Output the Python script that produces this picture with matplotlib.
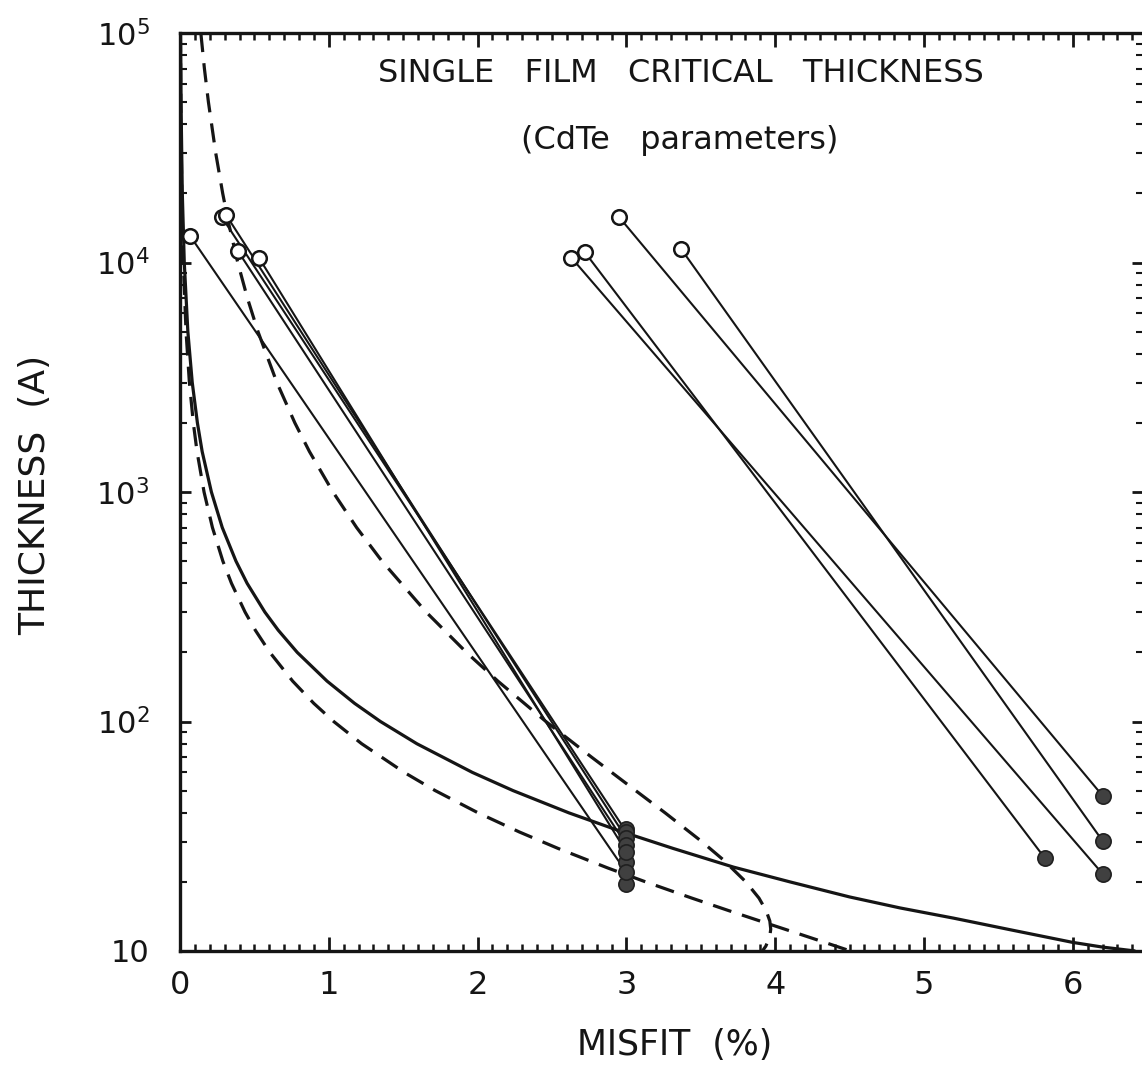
import matplotlib
matplotlib.use("Agg")
import matplotlib.pyplot as plt
from matplotlib import font_manager
from matplotlib.ticker import FixedLocator, MultipleLocator, LogLocator, NullFormatter

plt.rcParams['font.family'] = ['DejaVu Sans']
plt.rcParams['mathtext.default'] = 'regular'

# ---------------- data ----------------
# open circles (start) and filled dots (end) of each measured film
open_x = [0.07, 0.28, 0.31, 0.39, 0.53, 2.63, 2.72, 2.95, 3.37]
open_y = [13000, 15800, 16100, 11200, 10500, 10500, 11100, 15800, 11400]
end_x = [3.0, 3.0, 3.0, 3.0, 3.0, 6.2, 5.81, 6.2, 6.2]
end_y = [22, 33, 31, 29, 27, 21.7, 25.5, 47.5, 30.2]
# extra filled dots in the x = 3 % column
extra_x = [3.0, 3.0, 3.0]
extra_y = [19.5, 24.5, 34]

# solid curve
solid_x = [0.0036, 0.0068, 0.0155, 0.0287, 0.0528, 0.0823, 0.117, 0.149,
           0.211, 0.284, 0.376, 0.451, 0.570, 0.660, 0.788, 0.988, 1.173,
           1.347, 1.592, 1.965, 2.238, 2.613, 2.975, 3.313, 3.72, 4.10,
           4.50, 4.84, 5.20, 5.60, 6.00, 6.20, 6.42]
solid_y = [100000, 50000, 20000, 10000, 5000, 3000, 2000, 1500,
           1000, 700, 500, 400, 300, 250, 200, 150, 120,
           100, 80, 60, 50, 40, 33, 28, 23.2, 20,
           17.2, 15.4, 13.9, 12.3, 10.9, 10.4, 10.0]

# lower dashed curve
ldash_x = [0.0028, 0.0052, 0.0119, 0.022, 0.0405, 0.0631, 0.0895, 0.1145,
           0.1616, 0.218, 0.288, 0.346, 0.437, 0.506, 0.604, 0.757, 0.899,
           1.033, 1.221, 1.507, 1.715, 2.003, 2.281, 2.54, 2.875, 3.13,
           3.44, 3.687, 3.976, 4.139, 4.315, 4.506]
ldash_y = [100000, 50000, 20000, 10000, 5000, 3000, 2000, 1500,
           1000, 700, 500, 400, 300, 250, 200, 150, 120,
           100, 80, 60, 50, 40, 33, 28, 23, 20,
           17, 15, 13, 12, 11, 10]

# upper dashed curve (turns back near 4 %)
udash_x = [0.140, 0.164, 0.191, 0.240, 0.287, 0.325, 0.388, 0.453, 0.524,
           0.651, 0.772, 0.870, 1.028, 1.187, 1.357, 1.654, 1.925, 2.136,
           2.459, 2.765, 3.062, 3.26, 3.506, 3.65, 3.803, 3.891, 3.939,
           3.964, 3.970, 3.963, 3.937, 3.914]
udash_y = [100000, 70000, 50000, 30000, 20000, 15000, 10000, 7000, 5000,
           3000, 2000, 1500, 1000, 700, 500, 300, 200, 150,
           100, 70, 50, 40, 30, 25, 20, 17, 15,
           13.5, 12.45, 11.5, 10.5, 10]

xticks = [0, 1, 2, 3, 4, 5, 6]
yticks = [10, 100, 1000, 10000, 100000]
ytick_labels = ['10', '$10^2$', '$10^3$', '$10^4$', '$10^5$']

# ---------------- figure ----------------
W, H = 1142, 1077
fig = plt.figure(figsize=(W / 100, H / 100), dpi=100)
left_px, right_px, top_px, bot_px = 180, 1143, 33, 951
ax = fig.add_axes([left_px / W, 1 - bot_px / H,
                   (right_px - left_px) / W, (bot_px - top_px) / H])

ax.set_yscale('log')
ax.set_xlim(0, (right_px - left_px) / 148.8)
ax.set_ylim(10, 1e5)

ink = '#151515'
ax.plot(solid_x, solid_y, color=ink, lw=2.3, solid_capstyle='butt')
ax.plot(ldash_x, ldash_y, color=ink, lw=2.3, dashes=(6, 3.5))
ax.plot(udash_x, udash_y, color=ink, lw=2.3, dashes=(6, 3.5))

for x0, y0, x1, y1 in zip(open_x, open_y, end_x, end_y):
    ax.plot([x0, x1], [y0, y1], color=ink, lw=1.5, zorder=3)

ax.plot(extra_x, extra_y, 'o', ms=11, mfc='#404040', mec='#202020',
        mew=1.2, zorder=4)
ax.plot(end_x, end_y, 'o', ms=11, mfc='#404040', mec='#202020',
        mew=1.2, zorder=4)
ax.plot(open_x, open_y, 'o', ms=10.5, mfc='white', mec=ink,
        mew=1.8, zorder=5)

# text (pixel positions converted to axes fractions)
def fy(py):
    return 1 - (py - top_px) / (bot_px - top_px)

def fx(px):
    return (px - left_px) / (right_px - left_px)

ax.text(fx(681), fy(73), 'SINGLE   FILM   CRITICAL   THICKNESS',
        transform=ax.transAxes, ha='center', va='center', fontsize=23, color=ink)
ax.text(fx(680), fy(140), '(CdTe   parameters)',
        transform=ax.transAxes, ha='center', va='center', fontsize=23, color=ink)

# narrow font for the y label if available
avail = {f.name for f in font_manager.fontManager.ttflist}
if 'Liberation Sans Narrow' in avail:
    yfam, ysize = ['Liberation Sans Narrow', 'DejaVu Sans'], 30
else:
    yfam, ysize = ['DejaVu Sans'], 26

ax.set_xlabel('MISFIT  (%)', fontsize=25, color=ink)
ax.set_ylabel('THICKNESS  (A)', fontsize=ysize, color=ink, family=yfam)
ax.xaxis.set_label_coords(fx(675), -(1045 - bot_px) / (bot_px - top_px))
ax.xaxis.label.set_va('center')
ax.yaxis.set_label_coords(-(left_px - 35) / (right_px - left_px), fy(495))
ax.yaxis.label.set_va('center')

# ticks
ax.xaxis.set_major_locator(FixedLocator(xticks))
ax.xaxis.set_minor_locator(MultipleLocator(0.1))
ax.set_xticklabels([str(t) for t in xticks])
ax.yaxis.set_major_locator(FixedLocator(yticks))
ax.yaxis.set_minor_locator(LogLocator(base=10, subs=range(2, 10)))
ax.yaxis.set_minor_formatter(NullFormatter())
ax.set_yticklabels(ytick_labels)

ax.tick_params(axis='both', which='both', direction='in', colors=ink,
               top=True, right=True)
ax.tick_params(axis='x', which='major', length=10, width=2, pad=14, labelsize=23)
ax.tick_params(axis='x', which='minor', length=5, width=1.8)
ax.tick_params(axis='y', which='major', length=8, width=2, pad=22, labelsize=22)
ax.tick_params(axis='y', which='minor', length=5, width=1.5)

for side in ['left', 'bottom', 'top']:
    ax.spines[side].set_linewidth(2.4)
    ax.spines[side].set_color(ink)
ax.spines['right'].set_visible(False)

fig.savefig('out.png', dpi=100, facecolor='white')
